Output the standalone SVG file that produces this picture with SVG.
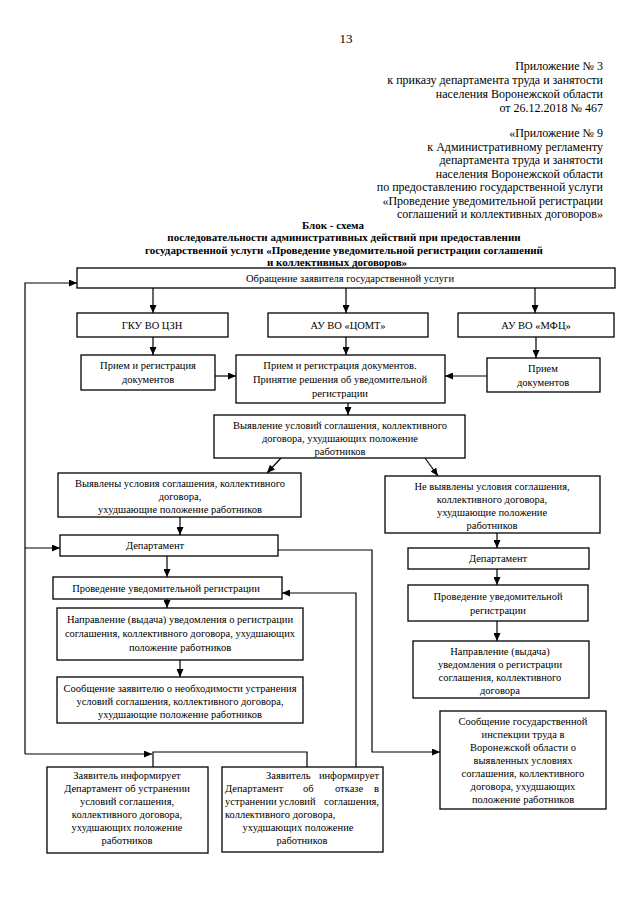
<svg xmlns="http://www.w3.org/2000/svg" width="640" height="905" viewBox="0 0 640 905">
<defs>
<style>
.bg{fill:#fff}
.b{fill:#fff;stroke:#000;stroke-width:1.3}
.t{font-family:"Liberation Serif","Times New Roman",serif;font-size:10.5px;text-anchor:middle;fill:#000}
.s{text-anchor:start}
.e{text-anchor:end}
.h{font-family:"Liberation Serif","Times New Roman",serif;font-size:12px;text-anchor:end;fill:#000}
.ti{font-family:"Liberation Serif","Times New Roman",serif;font-size:11px;font-weight:bold;text-anchor:middle;fill:#000}
.c{fill:none;stroke:#000;stroke-width:1.2}
</style>
<marker id="ar" markerUnits="userSpaceOnUse" markerWidth="8" markerHeight="7" refX="8" refY="3.5" orient="auto">
<path d="M0,0 L8,3.5 L0,7 z" fill="#000"/>
</marker>
</defs>
<rect class="bg" x="0" y="0" width="640" height="905"/>

<g id="header">
<text x="346" y="43" style="font-family:'Liberation Serif',serif;font-size:13px;text-anchor:middle">13</text>
<text class="h" x="603" y="70">Приложение № 3</text>
<text class="h" x="603" y="84">к приказу департамента труда и занятости</text>
<text class="h" x="603" y="98">населения Воронежской области</text>
<text class="h" x="603" y="112">от 26.12.2018 № 467</text>
<text class="h" x="603" y="137">«Приложение № 9</text>
<text class="h" x="603" y="151">к Административному регламенту</text>
<text class="h" x="603" y="164">департамента труда и занятости</text>
<text class="h" x="603" y="178">населения Воронежской области</text>
<text class="h" x="603" y="191">по предоставлению государственной услуги</text>
<text class="h" x="603" y="205">«Проведение уведомительной регистрации</text>
<text class="h" x="603" y="218">соглашений и коллективных договоров»</text>
</g>

<g id="title">
<text class="ti" x="333" y="229">Блок - схема</text>
<text class="ti" x="344" y="241">последовательности административных действий при предоставлении</text>
<text class="ti" x="344" y="254">государственной услуги «Проведение уведомительной регистрации соглашений</text>
<text class="ti" x="337" y="266">и коллективных договоров»</text>
</g>

<g id="connectors">
<line class="c" x1="153" y1="288" x2="153" y2="313" marker-end="url(#ar)"/>
<line class="c" x1="346" y1="288" x2="346" y2="313" marker-end="url(#ar)"/>
<line class="c" x1="535" y1="288" x2="535" y2="313" marker-end="url(#ar)"/>
<line class="c" x1="153" y1="337" x2="153" y2="355" marker-end="url(#ar)"/>
<line class="c" x1="346" y1="337" x2="346" y2="355" marker-end="url(#ar)"/>
<line class="c" x1="536" y1="337" x2="536" y2="358" marker-end="url(#ar)"/>
<line class="c" x1="215" y1="376" x2="236" y2="376" marker-end="url(#ar)"/>
<line class="c" x1="487" y1="376" x2="445" y2="376" marker-end="url(#ar)"/>
<line class="c" x1="348" y1="403" x2="348" y2="415" marker-end="url(#ar)"/>
<line class="c" x1="281" y1="458" x2="267" y2="473" marker-end="url(#ar)"/>
<line class="c" x1="425" y1="458" x2="438" y2="476" marker-end="url(#ar)"/>
<line class="c" x1="180" y1="517" x2="180" y2="535" marker-end="url(#ar)"/>
<line class="c" x1="497" y1="533" x2="497" y2="548" marker-end="url(#ar)"/>
<line class="c" x1="497" y1="569" x2="497" y2="585" marker-end="url(#ar)"/>
<line class="c" x1="497" y1="621" x2="497" y2="641" marker-end="url(#ar)"/>
<line class="c" x1="167" y1="556" x2="167" y2="577" marker-end="url(#ar)"/>
<line class="c" x1="167" y1="599" x2="167" y2="608" marker-end="url(#ar)"/>
<line class="c" x1="180" y1="660" x2="180" y2="677" marker-end="url(#ar)"/>
<polyline class="c" points="25,754 25,283 77,283" marker-end="url(#ar)"/>
<line class="c" x1="25" y1="548" x2="60" y2="548" marker-end="url(#ar)"/>
<line class="c" x1="25" y1="754" x2="152" y2="754" marker-end="url(#ar)"/>
<polyline class="c" points="153,767 153,752 307,752 307,767"/>
<polyline class="c" points="356,767 356,593 282,593" marker-end="url(#ar)"/>
<polyline class="c" points="278,550 372,550 372,752 440,752" marker-end="url(#ar)"/>
</g>

<g id="n-obr">
<rect class="b" x="77" y="268" width="538" height="20"/>
<text class="t" x="350" y="282">Обращение заявителя государственной услуги</text>
</g>
<g id="n-gku">
<rect class="b" x="77" y="313" width="151" height="24"/>
<text class="t" x="152" y="329">ГКУ ВО ЦЗН</text>
</g>
<g id="n-comt">
<rect class="b" x="268" y="313" width="160" height="24"/>
<text class="t" x="348" y="329">АУ ВО «ЦОМТ»</text>
</g>
<g id="n-mfc">
<rect class="b" x="458" y="313" width="156" height="24"/>
<text class="t" x="536" y="329">АУ ВО «МФЦ»</text>
</g>
<g id="n-priem1">
<rect class="b" x="81" y="355" width="134" height="35"/>
<text class="t" x="148" y="369">Прием и регистрация</text>
<text class="t" x="148" y="383">документов</text>
</g>
<g id="n-priem2">
<rect class="b" x="236" y="355" width="209" height="48"/>
<text class="t" x="340" y="369">Прием и регистрация документов.</text>
<text class="t" x="340" y="383">Принятие решения об уведомительной</text>
<text class="t" x="340" y="397">регистрации</text>
</g>
<g id="n-priem3">
<rect class="b" x="487" y="358" width="113" height="34"/>
<text class="t" x="543" y="372">Прием</text>
<text class="t" x="543" y="386">документов</text>
</g>
<g id="n-vyyav">
<rect class="b" x="214" y="415" width="251" height="43"/>
<text class="t" x="340" y="429">Выявление условий соглашения, коллективного</text>
<text class="t" x="340" y="442">договора, ухудшающих положение</text>
<text class="t" x="340" y="455">работников</text>
</g>
<g id="n-vyyavleny">
<rect class="b" x="58" y="473" width="243" height="44"/>
<text class="t" x="180" y="487">Выявлены условия соглашения, коллективного</text>
<text class="t" x="180" y="500">договора,</text>
<text class="t" x="180" y="513">ухудшающие положение работников</text>
</g>
<g id="n-nevyyavleny">
<rect class="b" x="385" y="476" width="215" height="57"/>
<text class="t" x="492" y="490">Не выявлены условия соглашения,</text>
<text class="t" x="492" y="503">коллективного договора,</text>
<text class="t" x="492" y="516">ухудшающие положение</text>
<text class="t" x="492" y="529">работников</text>
</g>
<g id="n-dep1">
<rect class="b" x="60" y="535" width="218" height="21"/>
<text class="t" x="155" y="549">Департамент</text>
</g>
<g id="n-dep2">
<rect class="b" x="408" y="548" width="181" height="21"/>
<text class="t" x="498" y="562">Департамент</text>
</g>
<g id="n-prov1">
<rect class="b" x="53" y="577" width="229" height="22"/>
<text class="t" x="166" y="592">Проведение уведомительной регистрации</text>
</g>
<g id="n-prov2">
<rect class="b" x="408" y="585" width="180" height="36"/>
<text class="t" x="498" y="600">Проведение уведомительной</text>
<text class="t" x="498" y="614">регистрации</text>
</g>
<g id="n-napr1">
<rect class="b" x="57" y="608" width="246" height="52"/>
<text class="t" x="180" y="623">Направление (выдача) уведомления о регистрации</text>
<text class="t" x="180" y="637">соглашения, коллективного договора, ухудшающих</text>
<text class="t" x="180" y="651">положение работников</text>
</g>
<g id="n-napr2">
<rect class="b" x="413" y="641" width="176" height="57"/>
<text class="t" x="500" y="655">Направление (выдача)</text>
<text class="t" x="500" y="668">уведомления о регистрации</text>
<text class="t" x="500" y="681">соглашения, коллективного</text>
<text class="t" x="500" y="694">договора</text>
</g>
<g id="n-soob1">
<rect class="b" x="57" y="677" width="246" height="46"/>
<text class="t" x="180" y="692">Сообщение заявителю о необходимости устранения</text>
<text class="t" x="180" y="705">условий соглашения, коллективного договора,</text>
<text class="t" x="180" y="718">ухудшающие положение работников</text>
</g>
<g id="n-soob2">
<rect class="b" x="440" y="711" width="166" height="98"/>
<text class="t" x="523" y="725">Сообщение государственной</text>
<text class="t" x="523" y="738">инспекции труда в</text>
<text class="t" x="523" y="751">Воронежской области о</text>
<text class="t" x="523" y="764">выявленных условиях</text>
<text class="t" x="523" y="777">соглашения, коллективного</text>
<text class="t" x="523" y="790">договора, ухудшающих</text>
<text class="t" x="523" y="803">положение работников</text>
</g>
<g id="n-zayav1">
<rect class="b" x="47" y="767" width="161" height="86"/>
<text class="t" x="127" y="779">Заявитель информирует</text>
<text class="t" x="127" y="792">Департамент об устранении</text>
<text class="t" x="127" y="805">условий соглашения,</text>
<text class="t" x="127" y="818">коллективного договора,</text>
<text class="t" x="127" y="831">ухудшающих положение</text>
<text class="t" x="127" y="844">работников</text>
</g>
<g id="n-zayav2">
<rect class="b" x="222" y="767" width="161" height="85"/>
<text class="t s" y="779"><tspan x="266">Заявитель</tspan> <tspan class="e" x="379">информирует</tspan></text>
<text class="t s" y="792"><tspan x="225">Департамент</tspan> <tspan x="303">об</tspan> <tspan x="335">отказе</tspan> <tspan class="e" x="379">в</tspan></text>
<text class="t s" y="805"><tspan x="225">устранении</tspan> <tspan x="279">условий</tspan> <tspan class="e" x="379">соглашения,</tspan></text>
<text class="t s" x="225" y="818">коллективного договора,</text>
<text class="t" x="298" y="831">ухудшающих положение</text>
<text class="t" x="302" y="844">работников</text>
</g>
</svg>
